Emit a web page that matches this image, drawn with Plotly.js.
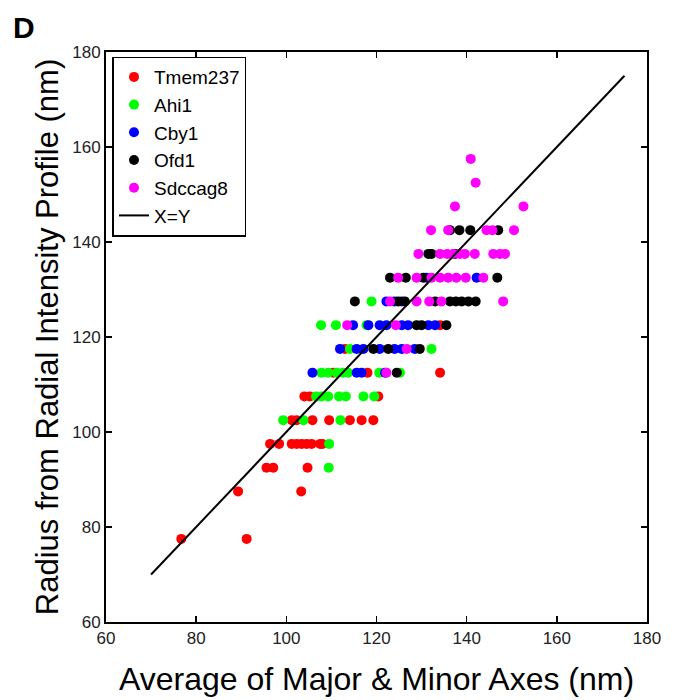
<!DOCTYPE html>
<html>
<head>
<meta charset="utf-8">
<script src="https://cdn.plot.ly/plotly-3.0.1.min.js"></script>
<style>html,body{margin:0;padding:0;background:#fff;}#chart{width:675px;height:700px;}</style>
</head>
<body>
<div id="chart"></div>
<script>
// Tmem237 (red)
const tmemX = [76.7,91.2,89.3,103.3,95.6,97.1,104.7,96.4,98.4,101.2,102.3,103.4,104.5,105.6,107.5,108.0,101.2,102.3,105.8,109.5,114.1,116.7,119.3,104.0,105.2,120.4,110.4,118.0,134.1,113.0,134.1];
const tmemY = [77.5,77.5,87.5,87.5,92.5,92.5,92.5,97.5,97.5,97.5,97.5,97.5,97.5,97.5,97.5,97.5,102.5,102.5,102.5,102.5,102.5,102.5,102.5,107.5,107.5,107.5,112.5,112.5,112.5,117.5,122.5];
// Ahi1 (green)
const ahiX = [109.4,109.5,99.3,103.8,112.0,106.6,107.8,109.3,111.7,113.2,117.1,119.5,107.8,109.3,111.2,112.6,113.7,120.6,125.2,114.1,132.2,107.7,111.0,117.8,118.9];
const ahiY = [92.5,97.5,102.5,102.5,102.5,107.5,107.5,107.5,107.5,107.5,107.5,107.5,112.5,112.5,112.5,112.5,112.5,112.5,112.5,117.5,117.5,122.5,122.5,122.5,127.5];
// Cby1 (blue)
const cbyX = [105.8,115.6,116.7,121.9,111.9,115.6,117.1,120.7,124.0,125.6,128.5,114.8,118.2,120.7,122.2,125.6,127.0,131.5,133.0,122.2,124.0,125.6,131.1,142.2];
const cbyY = [112.5,112.5,112.5,112.5,117.5,117.5,117.5,117.5,117.5,117.5,117.5,122.5,122.5,122.5,122.5,122.5,122.5,122.5,122.5,127.5,127.5,127.5,132.5,132.5];
// Ofd1 (black)
const ofdX = [124.5,119.3,122.6,129.6,128.9,130.0,135.5,115.2,124.8,126.3,133.0,136.3,137.6,138.9,140.4,142.0,123.0,126.5,130.4,146.8,131.5,132.2,137.4,136.3,138.4,140.8,147.0];
const ofdY = [112.5,117.5,117.5,117.5,122.5,122.5,122.5,127.5,127.5,127.5,127.5,127.5,127.5,127.5,127.5,127.5,132.5,132.5,132.5,132.5,137.5,137.5,137.5,142.5,142.5,142.5,142.5];
// Sdccag8 (magenta)
const sdcX = [122.2,126.7,113.5,124.3,123.0,128.9,131.7,134.4,148.1,124.8,128.9,132.2,134.1,135.9,137.7,139.8,143.7,129.3,134.1,135.7,137.0,138.5,139.6,141.8,145.9,147.4,148.5,132.1,135.9,144.4,145.7,150.5,137.4,152.6,142.0,140.9];
const sdcY = [112.5,117.5,122.5,122.5,127.5,127.5,127.5,127.5,127.5,132.5,132.5,132.5,132.5,132.5,132.5,132.5,132.5,137.5,137.5,137.5,137.5,137.5,137.5,137.5,137.5,137.5,137.5,142.5,142.5,142.5,142.5,142.5,147.5,147.5,152.5,157.5];
// X=Y reference line
const lineX = [70,175];
const lineY = [70,175];
const tickVals = [60,80,100,120,140,160,180];

const font = 'Liberation Sans, Arial, sans-serif';
function pts(x,y,name,color){
  return {x:x,y:y,name:name,type:'scatter',mode:'markers',
    marker:{color:color,size:10,line:{width:0}}};
}
const data = [
  pts(tmemX,tmemY,'Tmem237','#ff0000'),
  pts(ahiX,ahiY,'Ahi1','#00ff00'),
  pts(cbyX,cbyY,'Cby1','#0000ff'),
  pts(ofdX,ofdY,'Ofd1','#000000'),
  pts(sdcX,sdcY,'Sdccag8','#ff00ff'),
  {x:lineX,y:lineY,name:'X=Y',type:'scatter',mode:'lines',line:{color:'#000',width:2}}
];
const axisCommon = {
  range:[60,180], tickvals:tickVals, ticks:'inside', ticklen:6, tickwidth:1.5, tickcolor:'#000',
  showline:true, linecolor:'#000', linewidth:2, mirror:'allticks', showgrid:false, zeroline:false,
  tickfont:{family:font,size:17,color:'#222'}, automargin:false
};
const layout = {
  width:675, height:700,
  margin:{l:106,r:28,t:52,b:78},
  paper_bgcolor:'#fff', plot_bgcolor:'#fff',
  font:{family:font,color:'#000'},
  showlegend:true,
  legend:{x:0.012,y:0.992,xanchor:'left',yanchor:'top',bordercolor:'#000',borderwidth:1.5,
    bgcolor:'#fff',font:{family:font,size:19,color:'#000'},tracegroupgap:0},
  xaxis:Object.assign({},axisCommon,{title:{text:'Average of Major &amp; Minor Axes (nm)',font:{family:font,size:32,color:'#000'},standoff:20}}),
  yaxis:Object.assign({},axisCommon,{title:{text:'Radius from Radial Intensity Profile (nm)',font:{family:font,size:31,color:'#000'},standoff:4}}),
  annotations:[{text:'<b>D</b>',xref:'paper',yref:'paper',x:-0.176,y:1.075,xanchor:'left',yanchor:'top',showarrow:false,
    font:{family:font,size:30,color:'#000'}}]
};
Plotly.newPlot('chart',data,layout,{displayModeBar:false,staticPlot:true});
</script>
</body>
</html>
